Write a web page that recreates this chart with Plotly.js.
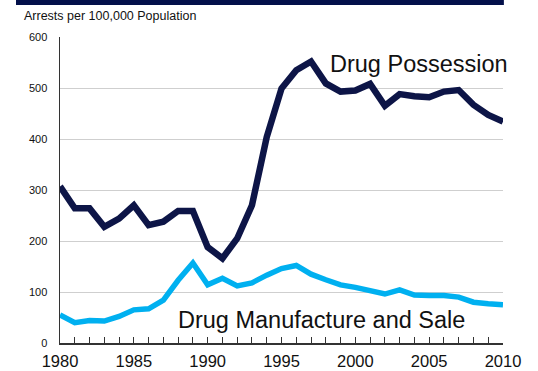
<!DOCTYPE html>
<html>
<head>
<meta charset="utf-8">
<script src="https://cdn.plot.ly/plotly-3.0.1.min.js"></script>
<style>
html,body{margin:0;padding:0;background:#fff;}
#chart{width:538px;height:371px;}
</style>
</head>
<body>
<div id="chart"></div>
<script>
const years = [1980,1981,1982,1983,1984,1985,1986,1987,1988,1989,1990,1991,1992,1993,1994,1995,1996,1997,1998,1999,2000,2001,2002,2003,2004,2005,2006,2007,2008,2009,2010];
const drugPossession = [307,264,264,228,244,270,231,238,259,259,188,166,205,270,404,499,535,552,509,493,495,508,465,488,484,482,493,496,467,447,434];
const drugManufactureSale = [55,40,44,43,52,65,67,84,123,157,114,127,112,118,133,146,152,135,124,114,109,103,96,104,94,93,93,90,80,77,75];
const yTicks = [0,100,200,300,400,500,600];
const xTicks = [1980,1985,1990,1995,2000,2005,2010];

const navy = '#0d1547';
const blue = '#00b0f0';

const traces = [
  {x: years, y: drugManufactureSale, type:'scatter', mode:'lines', line:{color:blue, width:5.5}, hoverinfo:'skip'},
  {x: years, y: drugPossession, type:'scatter', mode:'lines', line:{color:navy, width:6.5}, hoverinfo:'skip'}
];

const layout = {
  width:538, height:371,
  margin:{l:60, r:35, t:37, b:28},
  paper_bgcolor:'#fff', plot_bgcolor:'#fff',
  showlegend:false,
  font:{family:'Liberation Sans, Arial, sans-serif', color:'#111'},
  xaxis:{
    range:[1980,2010], tickvals:xTicks, ticktext:xTicks.map(String),
    ticks:'inside', ticklen:6, tickcolor:'#333', tickwidth:1,
    minor:{dtick:1, tick0:1980, ticks:'inside', ticklen:6, tickcolor:'#333', tickwidth:1, showgrid:false},
    showline:true, linecolor:'#333', linewidth:1.5, showgrid:false, zeroline:false,
    tickfont:{size:16.5, color:'#111'}, ticklabelstandoff:3, fixedrange:true
  },
  yaxis:{
    range:[0,600], tickvals:yTicks, ticktext:yTicks.map(String),
    ticks:'', showline:true, linecolor:'#333', linewidth:1.5,
    showgrid:true, gridcolor:'#cfcfcf', gridwidth:1, zeroline:false,
    tickfont:{size:11, color:'#111'}, ticklabelstandoff:9, fixedrange:true
  },
  shapes:[
    {type:'rect', xref:'paper', yref:'paper', x0:-0.0993, x1:1.002, y0:1.1046, y1:1.13, fillcolor:'#03104a', line:{width:0}, layer:'above'}
  ],
  annotations:[
    {text:'Arrests per 100,000 Population', xref:'paper', yref:'paper', x:-0.0858, y:1.0686, xanchor:'left', yanchor:'middle', showarrow:false, font:{size:12.5, color:'#111'}},
    {text:'Drug Possession', xref:'x', yref:'y', x:1998.15, y:547, xanchor:'left', yanchor:'middle', showarrow:false, font:{size:23.5, color:'#111'}},
    {text:'Drug Manufacture and Sale', xref:'x', yref:'y', x:1987.85, y:45, xanchor:'left', yanchor:'middle', showarrow:false, font:{size:23.5, color:'#111'}}
  ]
};

Plotly.newPlot('chart', traces, layout, {displayModeBar:false, staticPlot:true});
</script>
</body>
</html>
